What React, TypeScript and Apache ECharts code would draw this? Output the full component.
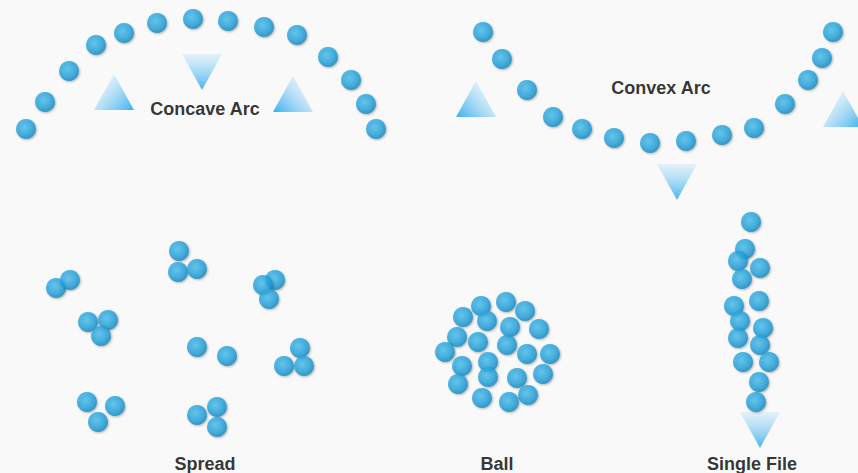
import React, { useEffect, useRef } from "react";
import * as echarts from "echarts";

const concaveArc = [
  [26, 129], [45, 102], [69, 71], [96, 45], [124, 33], [157, 23], [193, 19],
  [228, 21], [264, 27], [297, 35], [328, 57], [351, 80], [366, 104], [376, 129],
];
const convexArc = [
  [483, 32], [502, 59], [527, 90], [553, 117], [582, 129], [614, 138], [650, 143],
  [686, 141], [722, 135], [754, 128], [785, 104], [808, 80], [822, 58], [833, 32],
];
const spread = [
  [56, 288], [70, 280],
  [179, 251], [178, 272], [197, 269],
  [275, 280], [263, 285], [269, 299],
  [88, 322], [108, 320], [101, 336],
  [197, 347], [227, 356],
  [300, 348], [284, 366], [304, 366],
  [87, 402], [115, 406], [98, 422],
  [197, 415], [217, 407], [217, 427],
];
const ball = [
  [506, 302], [481, 306], [525, 311], [463, 317], [487, 321], [510, 327],
  [539, 329], [457, 337], [478, 342], [507, 345], [527, 354], [550, 354],
  [445, 352], [488, 362], [462, 366], [488, 377], [517, 378], [543, 374],
  [458, 384], [528, 395], [482, 398], [509, 402],
];
const singleFile = [
  [751, 222], [745, 249], [738, 261], [760, 268], [742, 279], [734, 306],
  [759, 301], [740, 321], [763, 328], [738, 338], [760, 345], [743, 362],
  [769, 362], [759, 382], [756, 402],
];

// triangle centers and their kind
const triangles = [
  [114, 92], [202, 72], [293, 94], [476, 99], [677, 182], [843, 109], [760, 430],
];
const triangleKinds = ["upRight", "down", "upLeft", "upLeft", "down", "upRight", "down"];

const labelNames = ["Concave Arc", "Convex Arc", "Spread", "Ball", "Single File"];
const labelPositions = [
  [205, 109], [661, 88], [205, 464], [497, 464], [752, 464],
];

const BALL_SIZE = 20;
const TRI_W = 40;
const TRI_H = 36;

export default function App() {
  const ref = useRef<HTMLDivElement>(null);

  useEffect(() => {
    if (!ref.current) return;
    const chart = echarts.init(ref.current, null, { renderer: "svg" });

    const ballStyle = {
      color: new echarts.graphic.RadialGradient(0.42, 0.4, 0.6, [
        { offset: 0, color: "#4fc1ee" },
        { offset: 0.65, color: "#25a4de" },
        { offset: 1, color: "#1888bd" },
      ]),
      shadowBlur: 2,
      shadowColor: "rgba(0,0,0,0.35)",
      shadowOffsetX: 1,
      shadowOffsetY: 1,
    };

    const ballSeries = (data: number[][]) => ({
      type: "scatter",
      data,
      symbol: "circle",
      symbolSize: BALL_SIZE,
      itemStyle: ballStyle,
      z: 3,
      silent: true,
    });

    const gradFor = (kind: string) => {
      if (kind === "down") {
        return new echarts.graphic.LinearGradient(0, 0, 0, 1, [
          { offset: 0, color: "rgba(160,215,245,0.25)" },
          { offset: 1, color: "#45b4ef" },
        ]);
      }
      if (kind === "upRight") {
        return new echarts.graphic.LinearGradient(0, 0.1, 1, 0.95, [
          { offset: 0, color: "rgba(170,220,248,0.05)" },
          { offset: 1, color: "#3fb1ef" },
        ]);
      }
      return new echarts.graphic.LinearGradient(1, 0.1, 0, 0.95, [
        { offset: 0, color: "rgba(170,220,248,0.05)" },
        { offset: 1, color: "#3fb1ef" },
      ]);
    };

    chart.setOption({
      animation: false,
      backgroundColor: "#f9f9f9",
      grid: { left: 0, right: 0, top: 0, bottom: 0 },
      xAxis: { type: "value", min: 0, max: 858, show: false },
      yAxis: { type: "value", min: 0, max: 473, inverse: true, show: false },
      series: [
        {
          type: "custom",
          data: triangles,
          z: 1,
          silent: true,
          renderItem: (params: any, api: any) => {
            const c = api.coord([api.value(0), api.value(1)]);
            const kind = triangleKinds[params.dataIndex];
            const hw = TRI_W / 2;
            const hh = TRI_H / 2;
            const points =
              kind === "down"
                ? [[c[0] - hw, c[1] - hh], [c[0] + hw, c[1] - hh], [c[0], c[1] + hh]]
                : [[c[0], c[1] - hh], [c[0] + hw, c[1] + hh], [c[0] - hw, c[1] + hh]];
            return {
              type: "polygon",
              shape: { points },
              style: { fill: gradFor(kind) },
            };
          },
        },
        ballSeries(concaveArc),
        ballSeries(convexArc),
        ballSeries(spread),
        ballSeries(ball),
        ballSeries(singleFile),
        {
          type: "scatter",
          data: labelNames.map((n, i) => ({ name: n, value: labelPositions[i] })),
          symbolSize: 1,
          itemStyle: { color: "rgba(0,0,0,0)" },
          z: 4,
          silent: true,
          label: {
            show: true,
            position: "inside",
            formatter: (p: any) => p.name,
            color: "#000",
            fontFamily: "Liberation Sans, Arial, sans-serif",
            fontWeight: "bold",
            fontSize: 18,
          },
        },
      ],
    });

    return () => chart.dispose();
  }, []);

  return (
    <div
      ref={ref}
      style={{ position: "fixed", left: 0, top: 0, width: 858, height: 473 }}
    />
  );
}
